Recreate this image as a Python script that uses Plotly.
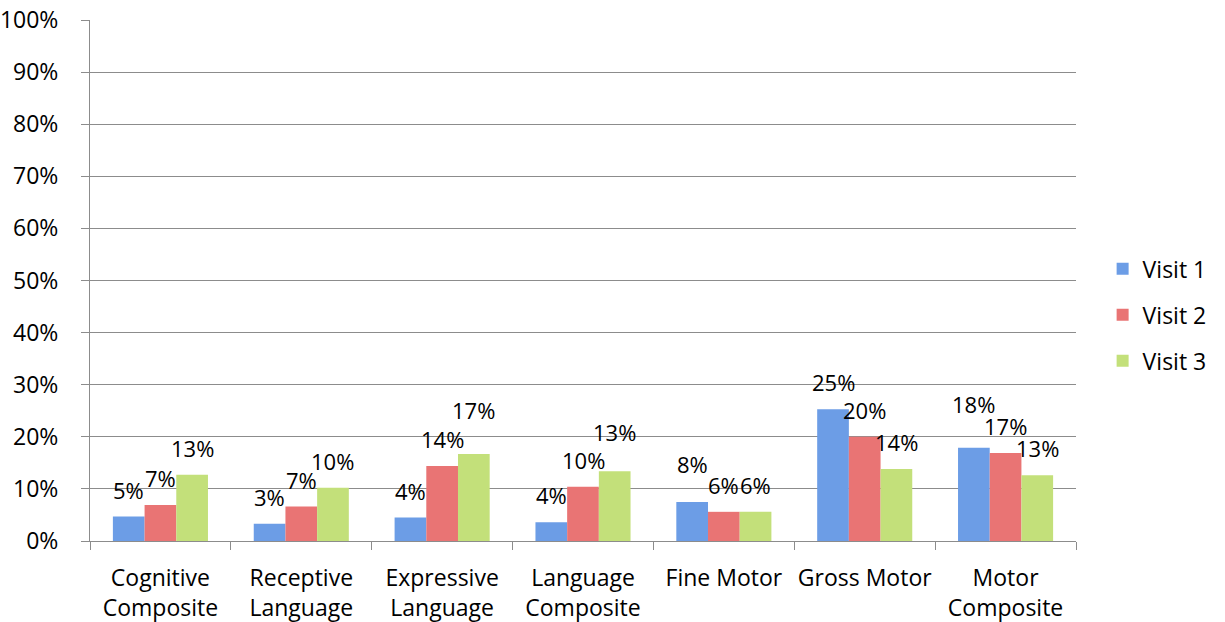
import plotly.graph_objects as go

# Share of children below threshold, by Bayley domain and visit
categories = [
    "Cognitive<br>Composite",
    "Receptive<br>Language",
    "Expressive<br>Language",
    "Language<br>Composite",
    "Fine Motor",
    "Gross Motor",
    "Motor<br>Composite",
]
visit1 = [0.047, 0.033, 0.045, 0.036, 0.075, 0.253, 0.179]
visit2 = [0.069, 0.066, 0.144, 0.104, 0.056, 0.200, 0.169]
visit3 = [0.127, 0.102, 0.167, 0.134, 0.056, 0.138, 0.126]
series_names = ["Visit 1", "Visit 2", "Visit 3"]

colors = ["#6c9de6", "#e97474", "#c3e07a"]
FONT = "Open Sans"
FS = 23
LABEL_FS = 22
BARGAP = 0.325
LABEL_SHIFT = 27
# extra lift (px) for a few labels that were nudged up to avoid crowding
extra_lift = {(2, 2): 17, (2, 3): 12, (0, 6): 17, (0, 4): 11}

fig = go.Figure()
series = [visit1, visit2, visit3]
for i, (name, vals) in enumerate(zip(series_names, series)):
    fig.add_trace(go.Bar(
        x=list(range(len(categories))),
        y=vals,
        name=name,
        legendgroup=name,
        marker=dict(color=colors[i], line=dict(width=0)),
        hoverinfo="y+name",
    ))

# value labels sit above each bar, centred on it
w = (1 - BARGAP) / 3
for i, vals in enumerate(series):
    for j, v in enumerate(vals):
        fig.add_annotation(
            x=j + (i - 1) * w, y=v, xref="x", yref="y",
            text=f"{v:.0%}", showarrow=False,
            yanchor="middle", yshift=LABEL_SHIFT + extra_lift.get((i, j), 0),
            font=dict(family=FONT, size=LABEL_FS, color="black"),
        )

fig.update_layout(
    width=1225, height=622,
    margin=dict(l=90, r=149, t=20, b=81),
    paper_bgcolor="white", plot_bgcolor="white",
    barmode="group", bargap=BARGAP, bargroupgap=0,
    font=dict(family=FONT, size=FS, color="black"),
    showlegend=True,
    legend=dict(
        x=1.027, xanchor="left", y=0.434, yanchor="middle",
        font=dict(family=FONT, size=FS, color="black"),
        tracegroupgap=13, itemwidth=30,
        bgcolor="rgba(0,0,0,0)",
    ),
)
fig.update_xaxes(
    type="linear",
    tickmode="array",
    tickvals=list(range(len(categories))),
    ticktext=categories,
    range=[-0.5, len(categories) - 0.5],
    ticks="", showgrid=False, zeroline=False,
    showline=True, linecolor="#8c8c8c", linewidth=1,
    ticklabelstandoff=16, automargin=False,
    tickfont=dict(family=FONT, size=FS, color="black"),
)
# boundary tick marks between categories on an overlay axis
fig.update_layout(xaxis2=dict(
    overlaying="x", side="bottom", range=[-0.5, len(categories) - 0.5],
    tickmode="array", tickvals=[k - 0.5 for k in range(len(categories) + 1)],
    ticks="outside", ticklen=8, tickcolor="#8c8c8c", showticklabels=False,
    showgrid=False, zeroline=False, showline=False, automargin=False,
))
fig.add_trace(go.Scatter(x=[None], y=[None], xaxis="x2", showlegend=False, hoverinfo="skip"))
fig.update_yaxes(
    range=[0, 1], dtick=0.1, tickformat=".0%",
    showgrid=True, gridcolor="#8c8c8c", gridwidth=1,
    showline=True, linecolor="#8c8c8c", linewidth=1,
    ticks="outside", ticklen=8, tickcolor="#8c8c8c",
    ticklabelstandoff=18, zeroline=False, automargin=False,
    tickfont=dict(family=FONT, size=FS, color="black"),
)

fig.write_html("out.html")
